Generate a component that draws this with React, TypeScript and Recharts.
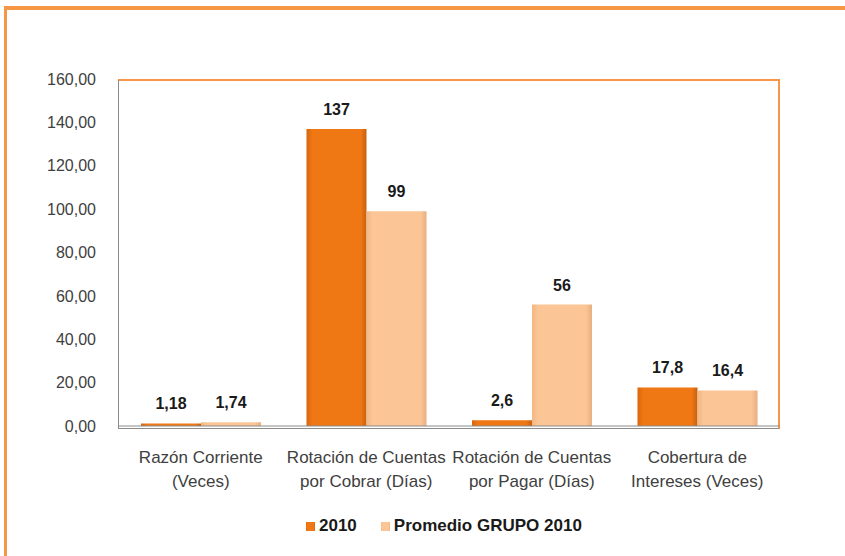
import React from "react";
import { Bar, BarChart, LabelList, Legend, XAxis, YAxis } from "recharts";

const categories = [
  "Razón Corriente\n(Veces)",
  "Rotación de Cuentas\npor Cobrar (Días)",
  "Rotación de Cuentas\npor Pagar (Días)",
  "Cobertura de\nIntereses (Veces)",
];
const values2010 = [1.18, 137, 2.6, 17.8];
const valuesGrupo = [1.74, 99, 56, 16.4];
const labels2010 = ["1,18", "137", "2,6", "17,8"];
const labelsGrupo = ["1,74", "99", "56", "16,4"];
const yTicks = [0, 20, 40, 60, 80, 100, 120, 140, 160];

const data = categories.map((name, i) => ({
  name,
  a: values2010[i],
  b: valuesGrupo[i],
  la: labels2010[i],
  lb: labelsGrupo[i],
}));

const FONT = "'Liberation Sans', Arial, sans-serif";
const ORANGE = "#F79646";

function CategoryTick(props: any) {
  const { x, y, payload } = props;
  const lines = String(payload.value).split("\n");
  return (
    <text x={x} y={y} textAnchor="middle" fontFamily={FONT} fontSize={17} fill="#404040">
      {lines.map((l, i) => (
        <tspan key={i} x={x} dy={i === 0 ? 29 : 24}>
          {l}
        </tspan>
      ))}
    </text>
  );
}

export default function App() {
  return (
    <div style={{ position: "absolute", left: 0, top: 0, width: 845, height: 556, background: "#fff" }}>
      <div
        style={{
          position: "absolute",
          left: 4,
          top: 6,
          width: 841,
          height: 550,
          borderTop: `4px solid ${ORANGE}`,
          borderLeft: `3px solid ${ORANGE}`,
          boxSizing: "border-box",
        }}
      />
      <div
        style={{
          position: "absolute",
          left: 118,
          top: 79,
          width: 662,
          height: 350,
          borderTop: `2px solid ${ORANGE}`,
          borderRight: `2px solid ${ORANGE}`,
          borderLeft: "1px solid #8c8c8c",
          borderBottom: "1px solid #8c8c8c",
          boxSizing: "border-box",
        }}
      />
      <BarChart
        width={845}
        height={556}
        data={data}
        margin={{ top: 79, right: 65, left: 18, bottom: 38 }}
        barSize={60}
        barGap={0}
        style={{ position: "absolute", left: 0, top: 0 }}
      >
        <defs>
          <linearGradient id="gA" x1="0" y1="0" x2="1" y2="0">
            <stop offset="0%" stopColor="#D9660C" />
            <stop offset="10%" stopColor="#F07814" />
            <stop offset="90%" stopColor="#F07814" />
            <stop offset="100%" stopColor="#C85F0E" />
          </linearGradient>
          <linearGradient id="gB" x1="0" y1="0" x2="1" y2="0">
            <stop offset="0%" stopColor="#F2B683" />
            <stop offset="10%" stopColor="#FBC595" />
            <stop offset="90%" stopColor="#FBC595" />
            <stop offset="100%" stopColor="#E8AE7E" />
          </linearGradient>
        </defs>
        <XAxis
          dataKey="name"
          tick={<CategoryTick />}
          tickLine={false}
          axisLine={{ stroke: "#8c8c8c" }}
          height={72}
          interval={0}
        />
        <YAxis
          domain={[0, 160]}
          ticks={yTicks}
          tickFormatter={(v: number) => v.toFixed(2).replace(".", ",")}
          tick={{ fontSize: 16, fill: "#404040", fontFamily: FONT }}
          tickLine={false}
          axisLine={false}
          width={100}
          tickMargin={16}
        />
        <Legend
          verticalAlign="bottom"
          align="left"
          iconType="square"
          iconSize={9}
          wrapperStyle={{ left: 306, width: "auto", bottom: 20, fontFamily: FONT, fontSize: 17, fontWeight: "bold" }}
          formatter={(value: string) => <span style={{ color: "#1a1a1a", marginRight: 14 }}>{value}</span>}
        />
        <Bar dataKey="a" name="2010" fill="url(#gA)" legendType="square" isAnimationActive={false}>
          <LabelList dataKey="la" position="top" offset={14} style={{ fontFamily: FONT, fontSize: 16, fontWeight: "bold", fill: "#1a1a1a" }} />
        </Bar>
        <Bar dataKey="b" name="Promedio GRUPO 2010" fill="url(#gB)" legendType="square" isAnimationActive={false}>
          <LabelList dataKey="lb" position="top" offset={14} style={{ fontFamily: FONT, fontSize: 16, fontWeight: "bold", fill: "#1a1a1a" }} />
        </Bar>
      </BarChart>
    </div>
  );
}
